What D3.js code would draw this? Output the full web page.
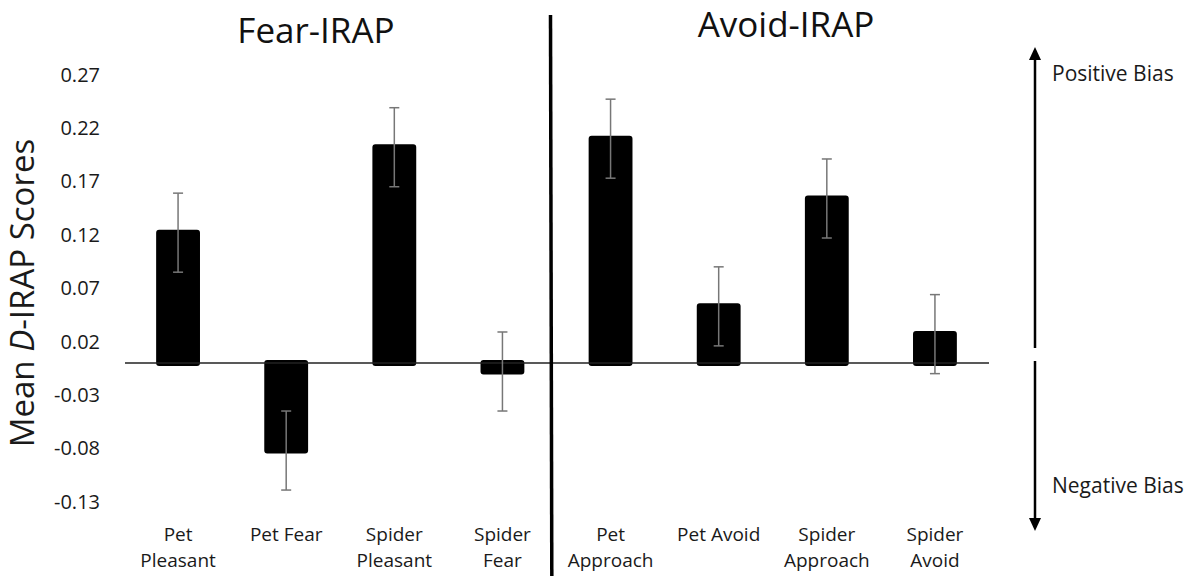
<!DOCTYPE html>
<html>
<head>
<meta charset="utf-8">
<script src="https://cdn.jsdelivr.net/npm/d3@7"></script>
<style>
  html, body { margin: 0; padding: 0; background: #fff; }
  svg { display: block; font-family: "Open Sans", sans-serif; }
</style>
</head>
<body>
<div id="graph"></div>
<script>
// categories, two lines each ("|" = line break)
const fearCats = ["Pet|Pleasant", "Pet Fear", "Spider|Pleasant", "Spider|Fear"];
const avoidCats = ["Pet|Approach", "Pet Avoid", "Spider|Approach", "Spider|Avoid"];
const fearMeans = [0.122, -0.082, 0.202, -0.008];
const avoidMeans = [0.210, 0.053, 0.154, 0.027];
const fearErr = [0.037, 0.037, 0.037, 0.037];
const avoidErr = [0.037, 0.037, 0.037, 0.037];
const tickValues = [0.27, 0.22, 0.17, 0.12, 0.07, 0.02, -0.03, -0.08, -0.13];
const tickLabels = ["0.27", "0.22", "0.17", "0.12", "0.07", "0.02", "-0.03", "-0.08", "-0.13"];
const panelTitles = ["Fear-IRAP", "Avoid-IRAP"];

function chart() {
  const width = 1199;
  const height = 576;
  const barStroke = 6;

  const svg = d3.select("#graph")
    .append("svg")
    .attr("width", width)
    .attr("height", height);

  const cats = fearCats.concat(avoidCats);
  const rows = cats.map(function(c, i) {
    return {
      name: c,
      value: i < 4 ? fearMeans[i] : avoidMeans[i - 4],
      err: i < 4 ? fearErr[i] : avoidErr[i - 4]
    };
  });

  const x = d3.scaleBand()
    .domain(cats)
    .range([124, 989])
    .paddingInner(0.65)
    .paddingOuter(0.325);

  const y = d3.scaleLinear()
    .domain([-0.13, 0.27])
    .range([501.8, 74.6]);

  // y tick labels only (no axis line, no tick marks)
  const yAxis = svg.append("g")
    .attr("transform", "translate(100,0)")
    .call(d3.axisLeft(y).tickValues(tickValues).tickSize(0).tickPadding(0)
      .tickFormat(function(d, i) { return tickLabels[i]; }));
  yAxis.select(".domain").remove();
  yAxis.selectAll("text")
    .attr("font-size", 20)
    .attr("fill", "#1a1a1a")
    .attr("font-family", "Open Sans, sans-serif");

  // y title
  const yTitle = svg.append("text")
    .attr("transform", "translate(34,293) rotate(-90)")
    .attr("text-anchor", "middle")
    .attr("font-size", 33)
    .attr("fill", "#1a1a1a");
  yTitle.append("tspan").text("Mean ");
  yTitle.append("tspan").attr("font-style", "italic").text("D");
  yTitle.append("tspan").text("-IRAP Scores");

  // bars
  svg.append("g").selectAll("rect")
    .data(rows)
    .join("rect")
    .attr("x", function(d) { return x(d.name); })
    .attr("y", function(d) { return y(Math.max(0, d.value)); })
    .attr("width", x.bandwidth())
    .attr("height", function(d) { return Math.abs(y(d.value) - y(0)); })
    .attr("fill", "#000")
    .attr("stroke", "#000")
    .attr("stroke-width", barStroke)
    .attr("stroke-linejoin", "round");

  // zero line
  svg.append("line")
    .attr("x1", x.range()[0] + 1).attr("x2", x.range()[1])
    .attr("y1", y(0)).attr("y2", y(0))
    .attr("stroke", "#222")
    .attr("stroke-width", 1.5);

  // error bars
  const eb = svg.append("g")
    .attr("stroke", "#777")
    .attr("stroke-width", 1.5);
  rows.forEach(function(d) {
    const cx = x(d.name) + x.bandwidth() / 2;
    eb.append("line")
      .attr("x1", cx).attr("x2", cx)
      .attr("y1", y(d.value + d.err)).attr("y2", y(d.value - d.err));
    [d.value + d.err, d.value - d.err].forEach(function(v) {
      eb.append("line")
        .attr("x1", cx - 5).attr("x2", cx + 5)
        .attr("y1", y(v)).attr("y2", y(v));
    });
  });

  // category labels, one text per line
  const labels = svg.append("g")
    .attr("font-size", 19)
    .attr("fill", "#1a1a1a")
    .attr("text-anchor", "middle");
  rows.forEach(function(d) {
    d.name.split("|").forEach(function(part, i) {
      labels.append("text")
        .attr("x", x(d.name) + x.bandwidth() / 2)
        .attr("y", 541 + i * 26)
        .text(part);
    });
  });

  // panel divider
  svg.append("line")
    .attr("x1", 550.5).attr("x2", 551.8)
    .attr("y1", 15).attr("y2", 576)
    .attr("stroke", "#000")
    .attr("stroke-width", 3.5);

  // panel titles
  svg.append("text")
    .attr("x", 316).attr("y", 43)
    .attr("text-anchor", "middle")
    .attr("font-size", 35)
    .attr("fill", "#111")
    .text(panelTitles[0]);
  svg.append("text")
    .attr("x", 786).attr("y", 37)
    .attr("text-anchor", "middle")
    .attr("font-size", 35)
    .attr("fill", "#111")
    .text(panelTitles[1]);

  // bias arrows
  const ax = 1035;
  svg.append("line")
    .attr("x1", ax).attr("x2", ax)
    .attr("y1", 58).attr("y2", 348)
    .attr("stroke", "#000").attr("stroke-width", 2.5);
  svg.append("line")
    .attr("x1", ax).attr("x2", ax)
    .attr("y1", 361).attr("y2", 519)
    .attr("stroke", "#000").attr("stroke-width", 2.5);
  svg.append("path")
    .attr("d", `M ${ax} 47 L ${ax - 6} 60 L ${ax + 6} 60 Z`)
    .attr("fill", "#000");
  svg.append("path")
    .attr("d", `M ${ax} 531 L ${ax - 6} 518 L ${ax + 6} 518 Z`)
    .attr("fill", "#000");

  svg.append("text")
    .attr("x", 1052).attr("y", 81)
    .attr("font-size", 21)
    .attr("fill", "#1a1a1a")
    .text("Positive Bias");
  svg.append("text")
    .attr("x", 1052).attr("y", 493)
    .attr("font-size", 21)
    .attr("fill", "#1a1a1a")
    .text("Negative Bias");
}

chart();
</script>
</body>
</html>
